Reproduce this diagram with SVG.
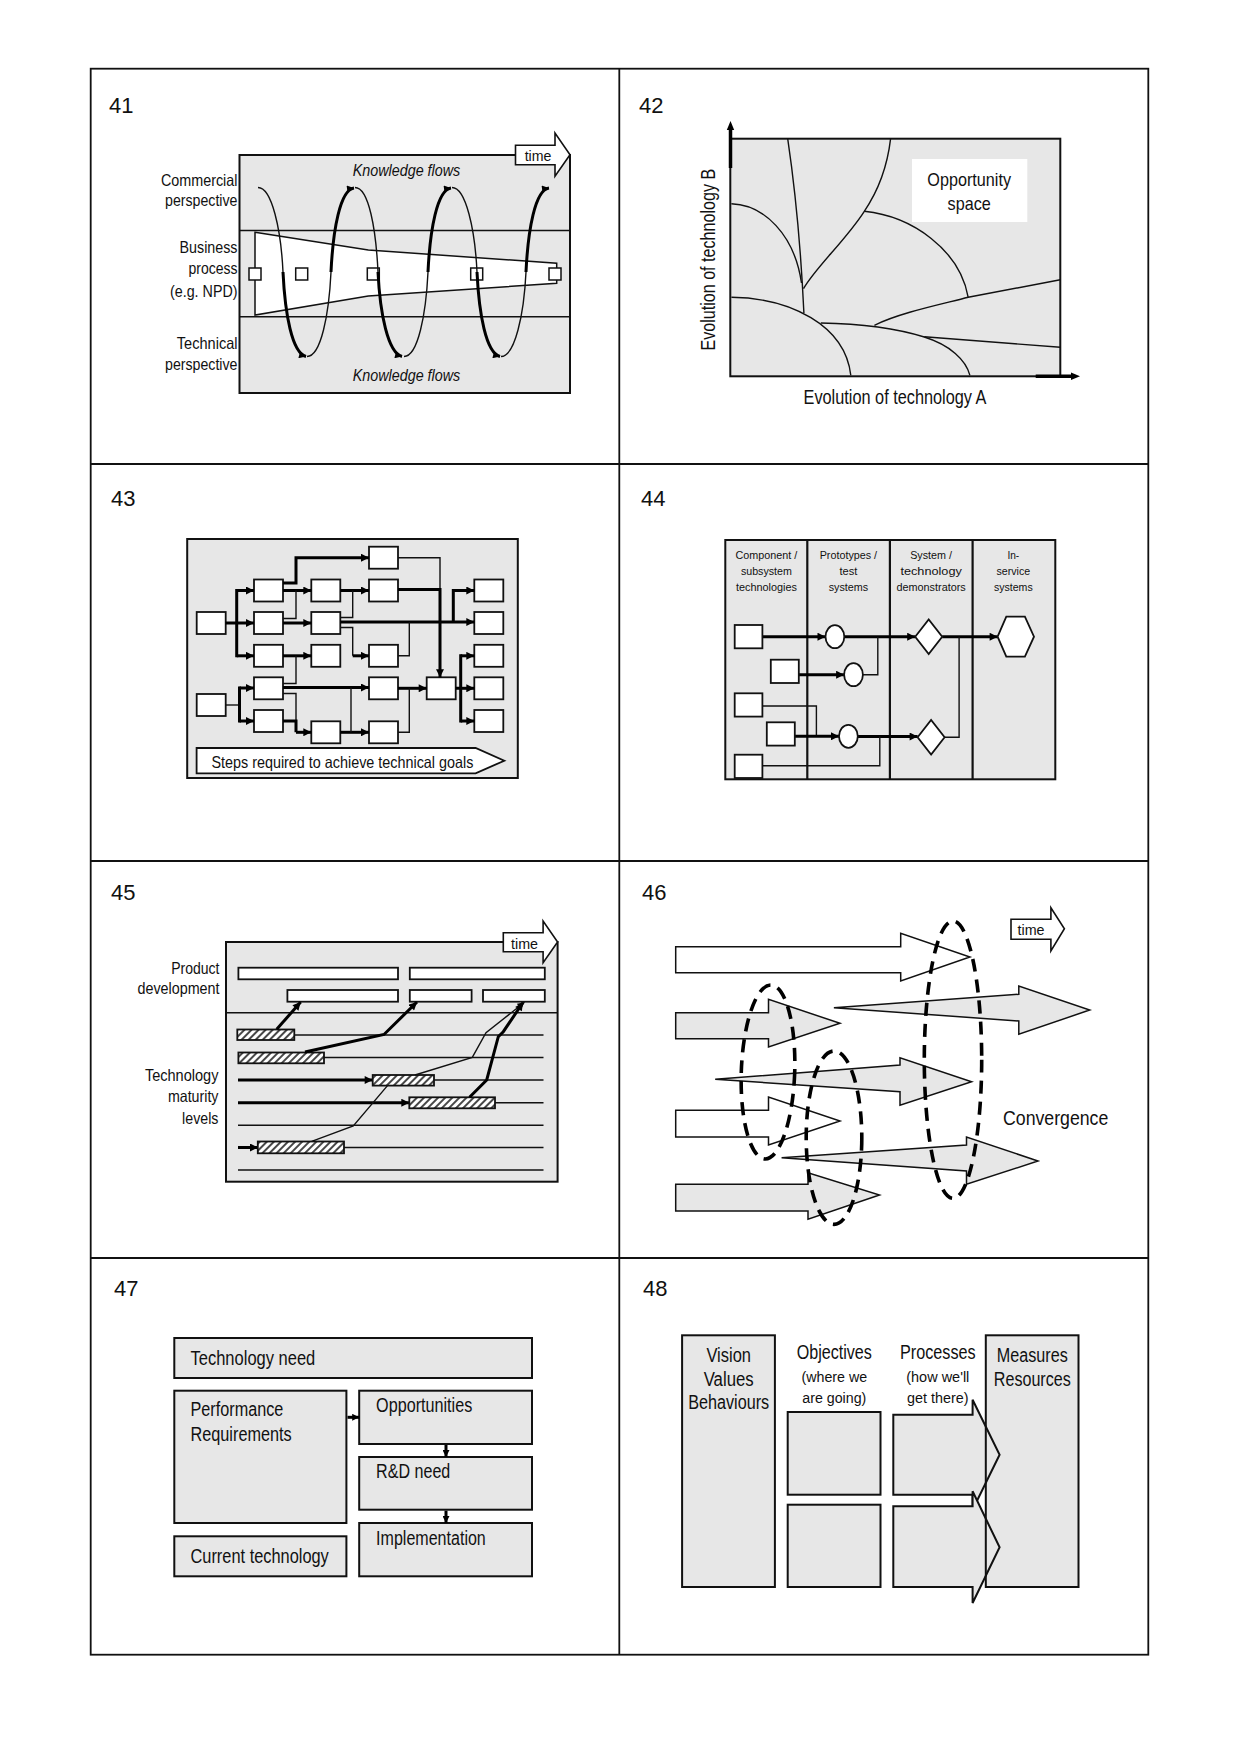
<svg xmlns="http://www.w3.org/2000/svg" width="1240" height="1753" viewBox="0 0 1240 1753">
<style>
text{font-family:"Liberation Sans",Arial,sans-serif;fill:#111}
.num{font-size:22px}
.gbox{fill:#e7e7e7;stroke:#111;stroke-width:2}
.wbox{fill:#fff;stroke:#111;stroke-width:1.8}
.thin{fill:none;stroke:#111;stroke-width:1.4}
.thick{fill:none;stroke:#000;stroke-width:3}
.ln{stroke:#111;stroke-width:1.6;fill:none}
.hatch{fill:url(#hatch);stroke:#111;stroke-width:1.8}
.dash{fill:none;stroke:#000;stroke-width:3.6;stroke-dasharray:13 8}
.arw{fill:#e7e7e7;stroke:#111;stroke-width:1.5}
.arwW{fill:#fff;stroke:#111;stroke-width:1.5}
</style>
<defs>
<marker id="ah" viewBox="0 0 10 10" refX="10" refY="5" markerWidth="9" markerHeight="8" markerUnits="userSpaceOnUse" orient="auto">
<path d="M0,0 L10,5 L0,10 z" fill="#000"/>
</marker>
<marker id="ahs" viewBox="0 0 10 10" refX="10" refY="5" markerWidth="8" markerHeight="7" markerUnits="userSpaceOnUse" orient="auto">
<path d="M0,0 L10,5 L0,10 z" fill="#000"/>
</marker>
<pattern id="hatch" width="5" height="5" patternUnits="userSpaceOnUse" patternTransform="rotate(45)">
<rect width="5" height="5" fill="#fff"/>
<line x1="1" y1="0" x2="1" y2="5" stroke="#333" stroke-width="1.8"/>
</pattern>
</defs>
<rect width="1240" height="1753" fill="#fff"/>

<g id="grid">
<rect x="90.7" y="68.7" width="1057.6" height="1586" fill="none" stroke="#111" stroke-width="1.8"/>
<line x1="619.3" y1="68.7" x2="619.3" y2="1654.7" stroke="#111" stroke-width="1.8"/>
<line x1="90.7" y1="464" x2="1148.3" y2="464" stroke="#111" stroke-width="1.8"/>
<line x1="90.7" y1="861" x2="1148.3" y2="861" stroke="#111" stroke-width="1.8"/>
<line x1="90.7" y1="1258" x2="1148.3" y2="1258" stroke="#111" stroke-width="1.8"/>
</g>

<!-- ===== 41 ===== -->
<g id="p41">
<text class="num" x="109" y="113">41</text>
<rect class="gbox" x="239.5" y="155" width="330.5" height="238"/>
<line class="ln" x1="239.5" y1="230.5" x2="570" y2="230.5" stroke-width="1.8"/>
<line class="ln" x1="239.5" y1="316.8" x2="570" y2="316.8" stroke-width="1.8"/>
<polygon points="255,232.3 368.3,250 556.7,263.3 556.7,283.3 368.3,296 255,315" fill="#fff" stroke="#111" stroke-width="1.5"/>
<g fill="#fff" stroke="#111" stroke-width="1.5">
<rect x="249" y="268" width="12" height="12"/>
<rect x="295.7" y="268" width="12" height="12"/>
<rect x="367.3" y="268" width="12" height="12"/>
<rect x="470.7" y="268" width="12" height="12"/>
<rect x="549" y="268" width="12" height="12"/>
</g>
<polygon points="515.5,145.3 555,145.3 555,133 570,154.7 555,176.3 555,164.7 515.5,164.7" fill="#fff" stroke="#111" stroke-width="1.6"/>
<text x="538" y="160.5" font-size="14.5" text-anchor="middle" textLength="26.7" lengthAdjust="spacingAndGlyphs">time</text>
<text x="406.5" y="176.3" font-size="17" font-style="italic" text-anchor="middle" textLength="107.6" lengthAdjust="spacingAndGlyphs">Knowledge flows</text>
<text x="406.5" y="381.3" font-size="17" font-style="italic" text-anchor="middle" textLength="107.6" lengthAdjust="spacingAndGlyphs">Knowledge flows</text>
<g font-size="16.5" text-anchor="end" lengthAdjust="spacingAndGlyphs">
<text x="237.5" y="186.3" textLength="76.6" lengthAdjust="spacingAndGlyphs">Commercial</text>
<text x="237.5" y="206.3" textLength="72.5" lengthAdjust="spacingAndGlyphs">perspective</text>
<text x="237.5" y="253" textLength="58" lengthAdjust="spacingAndGlyphs">Business</text>
<text x="237.5" y="273.7" textLength="49" lengthAdjust="spacingAndGlyphs">process</text>
<text x="237.5" y="297.3" textLength="67.5" lengthAdjust="spacingAndGlyphs">(e.g. NPD)</text>
<text x="237.5" y="348.7" textLength="60.7" lengthAdjust="spacingAndGlyphs">Technical</text>
<text x="237.5" y="369.7" textLength="72.5" lengthAdjust="spacingAndGlyphs">perspective</text>
</g>
<g id="spiral">
<path class="thin" d="M258,187.5 C272,187.5 281,230 283,272"/>
<path class="thick" marker-end="url(#ahs)" d="M283,272 C285,314 292,353 306,356.5"/>
<path class="thin" d="M307,356.5 C321,356.5 329,314 331,272"/>
<path class="thick" marker-end="url(#ahs)" d="M331,272 C333,230 340,190 354,188"/>
<path class="thin" d="M355,187.5 C369,187.5 376,230 378,272"/>
<path class="thick" marker-end="url(#ahs)" d="M378,272 C380,314 388,353 402,356.5"/>
<path class="thin" d="M404,356.5 C418,356.5 426,314 428,272"/>
<path class="thick" marker-end="url(#ahs)" d="M428,272 C430,230 437,190 451,188"/>
<path class="thin" d="M452,187.5 C466,187.5 475,230 477,272"/>
<path class="thick" marker-end="url(#ahs)" d="M477,272 C479,314 486,353 500,356.5"/>
<path class="thin" d="M501,356.5 C515,356.5 524,314 526,272"/>
<path class="thick" marker-end="url(#ahs)" d="M526,272 C528,230 535,190 549,188"/>
</g>
</g>

<!-- ===== 42 ===== -->
<g id="p42">
<text class="num" x="639" y="113">42</text>
<rect class="gbox" x="730.3" y="138.7" width="330" height="237.6"/>
<g class="thin" stroke-width="1.7">
<path d="M787.7,138.7 C794.5,184.7 801,251 803.9,313"/>
<path d="M731.4,203.7 C764,204.7 794.5,234.7 801.5,283"/>
<path d="M890.6,138.7 C886,178 872,200 864.3,211.3 C846,240 815,268 803.5,288.7"/>
<path d="M864.3,211.3 C912.5,216.3 959.8,250 968.2,297.3"/>
<path d="M874.4,325.3 C899,313 939.5,304.7 968.2,297.3 L1060.3,279.7"/>
<path d="M731.4,297.3 C790,298 845,325 850.8,375.3"/>
<path d="M820.8,323 C875,324 905,331 924.3,337 C950,345 966,360 969.9,375.3"/>
<path d="M924.3,336.7 L1060.3,347.3"/>
</g>
<rect x="912" y="159" width="115.3" height="63" fill="#fff"/>
<text x="969.2" y="186" font-size="19" text-anchor="middle" textLength="83.7" lengthAdjust="spacingAndGlyphs">Opportunity</text>
<text x="969.2" y="210" font-size="19" text-anchor="middle" textLength="43.2" lengthAdjust="spacingAndGlyphs">space</text>
<line x1="730.5" y1="168" x2="730.5" y2="128" stroke="#000" stroke-width="3.5"/>
<polygon points="726.8,130 734.2,130 730.5,121" fill="#000"/>
<line x1="1035.7" y1="376.3" x2="1073" y2="376.3" stroke="#000" stroke-width="3.5"/>
<polygon points="1071,372.6 1071,380 1080,376.3" fill="#000"/>
<text x="895" y="404" font-size="20" text-anchor="middle" textLength="182.9" lengthAdjust="spacingAndGlyphs">Evolution of technology A</text>
<text transform="translate(714.5,259.7) rotate(-90)" font-size="20" text-anchor="middle" textLength="181.7" lengthAdjust="spacingAndGlyphs">Evolution of technology B</text>
</g>

<!-- ===== 43 ===== -->
<g id="p43">
<text class="num" x="111" y="505.7">43</text>
<rect class="gbox" x="187.2" y="539" width="330.6" height="239" stroke-width="2.4"/>
<g class="wbox">
<rect x="196.7" y="612" width="29" height="22"/>
<rect x="196.7" y="694" width="29" height="22"/>
<rect x="254" y="579.5" width="29" height="22"/>
<rect x="254" y="612" width="29" height="22"/>
<rect x="254" y="644.8" width="29" height="22"/>
<rect x="254" y="677.3" width="29" height="22"/>
<rect x="254" y="710" width="29" height="22"/>
<rect x="311.3" y="579.5" width="29" height="22"/>
<rect x="311.3" y="612" width="29" height="22"/>
<rect x="311.3" y="644.8" width="29" height="22"/>
<rect x="311.3" y="721.3" width="29" height="22"/>
<rect x="369" y="546.7" width="29" height="22"/>
<rect x="369" y="579.5" width="29" height="22"/>
<rect x="369" y="644.8" width="29" height="22"/>
<rect x="369" y="677.3" width="29" height="22"/>
<rect x="369" y="721.3" width="29" height="22"/>
<rect x="426.7" y="677.3" width="29" height="22"/>
<rect x="474.3" y="579.5" width="29" height="22"/>
<rect x="474.3" y="612" width="29" height="22"/>
<rect x="474.3" y="644.8" width="29" height="22"/>
<rect x="474.3" y="677.3" width="29" height="22"/>
<rect x="474.3" y="710" width="29" height="22"/>
</g>
<g id="c43">
<path class="thick" d="M225.7,623 H236.7 M236.7,589 V657.3"/>
<path class="thick" marker-end="url(#ah)" d="M236.7,590.5 H254"/>
<path class="thick" marker-end="url(#ah)" d="M236.7,623 H254"/>
<path class="thick" marker-end="url(#ah)" d="M236.7,655.8 H254"/>
<path class="thin" d="M225.7,705 H239.5"/>
<path class="thick" d="M239.5,686.5 V722.5"/>
<path class="thick" marker-end="url(#ah)" d="M239.5,688 H254"/>
<path class="thick" marker-end="url(#ah)" d="M239.5,721 H254"/>
<path class="thick" marker-end="url(#ah)" d="M283,583 H296 V557.7 H369"/>
<path class="thick" marker-end="url(#ah)" d="M283,590.5 H311.3"/>
<path class="thin" d="M283,618.5 H296 V590.5"/>
<path class="thick" marker-end="url(#ah)" d="M283,623 H311.3"/>
<path class="thick" marker-end="url(#ah)" d="M340.3,590.5 H369"/>
<path class="thin" d="M340.3,617.5 H352.7 V590.5"/>
<path class="thick" marker-end="url(#ah)" d="M340.3,622 H474.3"/>
<path class="thin" d="M340.3,627.5 H352.7 V655.8"/>
<path class="thick" marker-end="url(#ah)" d="M352.7,655.8 H369"/>
<path class="thin" d="M398,557.7 H440 V589"/>
<path class="thick" marker-end="url(#ah)" d="M398,589.5 H440 V677.3"/>
<path class="thin" d="M398,655.8 H409.3 V622"/>
<path class="thick" marker-end="url(#ah)" d="M453.3,622 V590.5 H474.3"/>
<path class="thick" marker-end="url(#ah)" d="M283,655.8 H311.3"/>
<path class="thin" d="M283,683.5 H296 V655.8"/>
<path class="thick" marker-end="url(#ah)" d="M283,687.5 H369"/>
<path class="thin" d="M283,693.5 H296 V721"/>
<path class="thick" d="M283,721 H296 V732.3"/>
<path class="thick" marker-end="url(#ah)" d="M296,732.3 H311.3"/>
<path class="thick" marker-end="url(#ah)" d="M340.3,732.3 H369"/>
<path class="thin" d="M351,687.5 V732.3"/>
<path class="thick" marker-end="url(#ah)" d="M398,688.3 H426.7"/>
<path class="thin" d="M398,732.3 H409.3 V688.3"/>
<path class="thick" d="M455.7,688.3 H460.7 M460.7,654.3 V722.5"/>
<path class="thick" marker-end="url(#ah)" d="M460.7,655.8 H474.3"/>
<path class="thick" marker-end="url(#ah)" d="M460.7,688.3 H474.3"/>
<path class="thick" marker-end="url(#ah)" d="M460.7,721 H474.3"/>
</g>
<polygon points="196.6,748 475.6,748 504.3,760.7 475.6,773.3 196.6,773.3" fill="#fff" stroke="#111" stroke-width="1.8"/>
<text x="342.4" y="767.5" font-size="16.5" text-anchor="middle" textLength="262" lengthAdjust="spacingAndGlyphs">Steps required to achieve technical goals</text>
</g>

<!-- ===== 44 ===== -->
<g id="p44">
<text class="num" x="641" y="506">44</text>
<rect class="gbox" x="725.3" y="540" width="330" height="239.3" stroke-width="2.2"/>
<g stroke="#111" stroke-width="2.2">
<line x1="807.3" y1="540" x2="807.3" y2="779.3"/>
<line x1="889.9" y1="540" x2="889.9" y2="779.3"/>
<line x1="972.6" y1="540" x2="972.6" y2="779.3"/>
</g>
<g font-size="11.8" text-anchor="middle">
<text x="766.4" y="559" textLength="61.7" lengthAdjust="spacingAndGlyphs">Component /</text>
<text x="766.4" y="575" textLength="51" lengthAdjust="spacingAndGlyphs">subsystem</text>
<text x="766.4" y="590.5" textLength="61" lengthAdjust="spacingAndGlyphs">technologies</text>
<text x="848.4" y="559" textLength="57.4" lengthAdjust="spacingAndGlyphs">Prototypes /</text>
<text x="848.4" y="575" textLength="17.9" lengthAdjust="spacingAndGlyphs">test</text>
<text x="848.4" y="590.5" textLength="39.5" lengthAdjust="spacingAndGlyphs">systems</text>
<text x="931.1" y="559" textLength="41.8" lengthAdjust="spacingAndGlyphs">System /</text>
<text x="931.1" y="575" textLength="61.4" lengthAdjust="spacingAndGlyphs">technology</text>
<text x="931.1" y="590.5" textLength="69.2" lengthAdjust="spacingAndGlyphs">demonstrators</text>
<text x="1013.3" y="559" textLength="11.8" lengthAdjust="spacingAndGlyphs">In-</text>
<text x="1013.3" y="575" textLength="33.7" lengthAdjust="spacingAndGlyphs">service</text>
<text x="1013.3" y="590.5" textLength="38.8" lengthAdjust="spacingAndGlyphs">systems</text>
</g>
<g id="c44">
<path class="thick" marker-end="url(#ah)" d="M762.4,636.7 H825.5"/>
<path class="thick" marker-end="url(#ah)" d="M844.4,636.7 H915.2"/>
<path class="thick" marker-end="url(#ah)" d="M798.8,674.7 H844.1"/>
<path class="thin" d="M863,674.7 H877.8 V636.7"/>
<path class="thick" marker-end="url(#ah)" d="M942.2,636.7 H997.6"/>
<path class="thin" d="M762.4,706 H816.4 V736.3"/>
<path class="thick" marker-end="url(#ah)" d="M794.8,736.3 H839"/>
<path class="thick" marker-end="url(#ah)" d="M857.9,736.5 H917.6"/>
<path class="thin" d="M762.4,765.7 H879.8 V736.5"/>
<path class="thin" d="M944.6,737.3 H959.1 V636.7"/>
</g>
<g class="wbox">
<rect x="734.7" y="625" width="27.7" height="23.3"/>
<rect x="770.8" y="659.7" width="28" height="23.3"/>
<rect x="734.7" y="693.3" width="27.7" height="23.3"/>
<rect x="766.8" y="722.3" width="28" height="23.3"/>
<rect x="734.7" y="754.7" width="27.7" height="23.3"/>
<ellipse cx="834.9" cy="636.7" rx="9.4" ry="11.5"/>
<ellipse cx="853.5" cy="674.7" rx="9.4" ry="11.5"/>
<ellipse cx="848.4" cy="736.3" rx="9.4" ry="11.5"/>
<polygon points="915.2,636.7 928.7,619.4 942.2,636.7 928.7,654"/>
<polygon points="917.6,737.3 931.1,720 944.6,737.3 931.1,754.6"/>
<polygon points="997.6,636.7 1006.3,616.7 1024.9,616.7 1034,636.7 1024.9,656.7 1006.3,656.7"/>
</g>
</g>

<!-- ===== 45 ===== -->
<g id="p45">
<text class="num" x="111" y="900">45</text>
<rect class="gbox" x="226" y="942" width="331.6" height="239.7"/>
<line class="ln" x1="226" y1="1012.7" x2="557.6" y2="1012.7" stroke-width="1.8"/>
<polygon points="503.3,932.7 543.1,932.7 543.1,921 557.6,942 543.1,962.7 543.1,951.7 503.3,951.7" fill="#fff" stroke="#111" stroke-width="1.6"/>
<text x="524.5" y="948.5" font-size="14.5" text-anchor="middle" textLength="27" lengthAdjust="spacingAndGlyphs">time</text>
<g class="wbox">
<rect x="238.4" y="967.7" width="159.6" height="11.6"/>
<rect x="409.8" y="967.7" width="135" height="11.6"/>
<rect x="287.4" y="990" width="110.6" height="11.7"/>
<rect x="409.8" y="990" width="61.8" height="11.7"/>
<rect x="483" y="990" width="61.8" height="11.7"/>
</g>
<g text-anchor="end" font-size="16.5">
<text x="219.5" y="974.3" textLength="48.2" lengthAdjust="spacingAndGlyphs">Product</text>
<text x="219.5" y="994.3" textLength="82" lengthAdjust="spacingAndGlyphs">development</text>
<text x="218.5" y="1081" textLength="73.6" lengthAdjust="spacingAndGlyphs">Technology</text>
<text x="218.5" y="1101.7" textLength="50.6" lengthAdjust="spacingAndGlyphs">maturity</text>
<text x="218.5" y="1124.3" textLength="36.4" lengthAdjust="spacingAndGlyphs">levels</text>
</g>
<g class="ln" stroke-width="1.5">
<line x1="238" y1="1035" x2="543.5" y2="1035"/>
<line x1="238" y1="1057.5" x2="543.5" y2="1057.5"/>
<line x1="238" y1="1080" x2="543.5" y2="1080"/>
<line x1="238" y1="1102.7" x2="543.5" y2="1102.7"/>
<line x1="238" y1="1125.2" x2="543.5" y2="1125.2"/>
<line x1="238" y1="1147.5" x2="543.5" y2="1147.5"/>
<line x1="238" y1="1170" x2="543.5" y2="1170"/>
</g>
<path class="thick" stroke-width="3.4" marker-end="url(#ah)" d="M238,1080 H372.7"/>
<path class="thick" stroke-width="3.8" marker-end="url(#ah)" d="M238,1102.7 H409.3"/>
<path class="thick" stroke-width="3.8" marker-end="url(#ah)" d="M238,1147.5 H258"/>
<g class="hatch">
<rect x="237.3" y="1029.5" width="57" height="10.5"/>
<rect x="238.4" y="1052.5" width="85.6" height="10.8"/>
<rect x="372.7" y="1075" width="61.3" height="10.6"/>
<rect x="409.3" y="1097.3" width="85.7" height="11"/>
<rect x="257.8" y="1141.5" width="86.2" height="11.8"/>
</g>
<path class="thick" stroke-width="3.2" marker-end="url(#ah)" d="M276.7,1029.3 L300.7,1002"/>
<path class="thick" stroke-width="3.4" marker-end="url(#ah)" d="M305,1052 L384,1034.5 L417,1002"/>
<path class="thin" marker-end="url(#ahs)" d="M415,1075 L472.3,1057.3 L486,1032.7 L524.5,1002.3"/>
<path class="thick" stroke-width="3.4" marker-end="url(#ah)" d="M469.5,1097.3 L486.7,1080 L498.3,1036.7 L503.3,1031.7 L523,1002.5"/>
<path class="thin" d="M311.7,1141.3 L353.3,1126 L387.5,1085.6"/>
</g>

<!-- ===== 46 ===== -->
<g id="p46">
<text class="num" x="642" y="900">46</text>
<polygon class="arwW" points="675.7,946.7 900.7,946.7 900.7,933.3 969.9,957 900.7,981 900.7,972.7 675.7,972.7"/>
<polygon class="arw" points="675.7,1012.7 768.5,1012.7 768.5,999.3 840,1023.3 768.5,1047 768.5,1038.7 675.7,1038.7"/>
<polygon class="arw" points="833.9,1007.7 1018.8,994.3 1018.8,986 1089.7,1010 1018.8,1034.3 1018.8,1021"/>
<polygon class="arw" points="715.2,1079.3 900,1065 900,1057.7 971.6,1081.7 900,1105.3 900,1091.7"/>
<polygon class="arwW" points="675.7,1110.3 768.5,1110.3 768.5,1097 840,1121 768.5,1145 768.5,1137 675.7,1137"/>
<polygon class="arw" points="781.6,1157.7 966.5,1145 966.5,1137 1038,1161 966.5,1184.3 966.5,1171"/>
<polygon class="arw" points="675.7,1184.3 808,1184.3 808,1172.7 879.5,1195 808,1219.3 808,1211 675.7,1211"/>
<ellipse class="dash" cx="768" cy="1072" rx="26.7" ry="87" transform="rotate(2 768 1072)"/>
<ellipse class="dash" cx="834" cy="1137.7" rx="27.8" ry="86.7"/>
<ellipse class="dash" cx="953" cy="1059.7" rx="28.7" ry="138.7"/>
<polygon points="1011,919.3 1050.9,919.3 1050.9,907.7 1064.4,928.7 1050.9,951 1050.9,939.3 1011,939.3" fill="#fff" stroke="#111" stroke-width="1.6"/>
<text x="1031" y="935.3" font-size="14.5" text-anchor="middle" textLength="27" lengthAdjust="spacingAndGlyphs">time</text>
<text x="1003" y="1125" font-size="19.5" textLength="105.3" lengthAdjust="spacingAndGlyphs">Convergence</text>
</g>

<!-- ===== 47 ===== -->
<g id="p47">
<text class="num" x="114" y="1296">47</text>
<g class="gbox" stroke-width="2.2">
<rect x="174.3" y="1338" width="357.7" height="40"/>
<rect x="174.3" y="1390.7" width="172.1" height="132.3"/>
<rect x="174.3" y="1536.3" width="172.1" height="40"/>
<rect x="359.2" y="1390.7" width="172.8" height="53.3"/>
<rect x="359.2" y="1457" width="172.8" height="52.7"/>
<rect x="359.2" y="1523" width="172.8" height="53.3"/>
</g>
<g font-size="20">
<text x="190.5" y="1365.3" textLength="124.8" lengthAdjust="spacingAndGlyphs">Technology need</text>
<text x="190.5" y="1416.3" textLength="92.8" lengthAdjust="spacingAndGlyphs">Performance</text>
<text x="190.5" y="1441.3" textLength="101.2" lengthAdjust="spacingAndGlyphs">Requirements</text>
<text x="190.5" y="1563" textLength="138.3" lengthAdjust="spacingAndGlyphs">Current technology</text>
<text x="376.1" y="1412.3" textLength="96.2" lengthAdjust="spacingAndGlyphs">Opportunities</text>
<text x="376.1" y="1478" textLength="74.2" lengthAdjust="spacingAndGlyphs">R&amp;D need</text>
<text x="376.1" y="1544.7" textLength="109.7" lengthAdjust="spacingAndGlyphs">Implementation</text>
</g>
<path class="thick" stroke-width="2.4" marker-end="url(#ahs)" d="M347.5,1417.3 H359.2"/>
<path class="thick" stroke-width="2.4" marker-end="url(#ahs)" d="M446,1445 V1457"/>
<path class="thick" stroke-width="2.4" marker-end="url(#ahs)" d="M446,1510.7 V1523"/>
</g>

<!-- ===== 48 ===== -->
<g id="p48">
<text class="num" x="643" y="1296">48</text>
<rect class="gbox" x="682.1" y="1335.3" width="92.8" height="251.7"/>
<rect class="gbox" x="787.7" y="1412" width="92.8" height="82.7"/>
<rect class="gbox" x="787.7" y="1504.7" width="92.8" height="82.3"/>
<rect x="985.8" y="1335.3" width="92.7" height="251.7" fill="#e7e7e7"/>
<polygon class="gbox" points="893.3,1414.7 972.6,1414.7 972.6,1399.7 999.6,1454.7 972.6,1509.7 972.6,1494.7 893.3,1494.7"/>
<polygon class="gbox" points="893.3,1506.3 972.6,1506.3 972.6,1491.3 999.6,1547.3 972.6,1603 972.6,1587 893.3,1587"/>
<rect x="985.8" y="1335.3" width="92.7" height="251.7" fill="none" stroke="#111" stroke-width="2"/>
<g text-anchor="middle" font-size="20">
<text x="728.7" y="1362" textLength="44.5" lengthAdjust="spacingAndGlyphs">Vision</text>
<text x="728.7" y="1386" textLength="50" lengthAdjust="spacingAndGlyphs">Values</text>
<text x="728.7" y="1409" textLength="81" lengthAdjust="spacingAndGlyphs">Behaviours</text>
<text x="834.3" y="1359" textLength="75.2" lengthAdjust="spacingAndGlyphs">Objectives</text>
<text x="937.8" y="1359" textLength="75.6" lengthAdjust="spacingAndGlyphs">Processes</text>
<text x="1032.3" y="1362" textLength="70.9" lengthAdjust="spacingAndGlyphs">Measures</text>
<text x="1032.3" y="1386" textLength="76.9" lengthAdjust="spacingAndGlyphs">Resources</text>
</g>
<g text-anchor="middle" font-size="15.5">
<text x="834.3" y="1382" textLength="65.8" lengthAdjust="spacingAndGlyphs">(where we</text>
<text x="834.3" y="1403" textLength="64.1" lengthAdjust="spacingAndGlyphs">are going)</text>
<text x="937.8" y="1382" textLength="63.1" lengthAdjust="spacingAndGlyphs">(how we'll</text>
<text x="937.8" y="1403" textLength="61.4" lengthAdjust="spacingAndGlyphs">get there)</text>
</g>
</g>
</svg>
